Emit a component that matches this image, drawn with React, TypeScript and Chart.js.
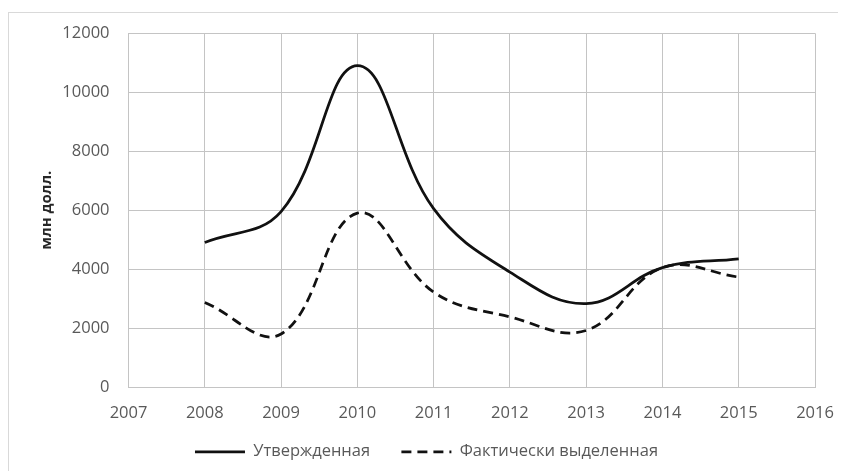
import React, { useEffect, useRef } from "react";
import { Chart, registerables } from "chart.js";

Chart.register(...registerables);

const years = [2008, 2009, 2010, 2011, 2012, 2013, 2014, 2015];
const approved = [4900, 5950, 10900, 6050, 3900, 2830, 4050, 4350];
const allocated = [2870, 1800, 5900, 3220, 2380, 1920, 4050, 3730];
const seriesNames = ["Утвержденная", "Фактически выделенная"];
const yTitle = "млн долл.";
const xMin = 2007;
const xMax = 2016;
const yMax = 12000;

const FONT = "'Open Sans', 'DejaVu Sans', sans-serif";
const TEXT = "#595959";
const GRID = "#c4c4c4";
const FS = 16.5;

export default function App() {
  const ref = useRef<HTMLCanvasElement | null>(null);
  useEffect(() => {
    if (!ref.current) return;
    const toPts = (arr: number[]) => years.map((y, i) => ({ x: y, y: arr[i] }));
    const chart = new Chart(ref.current, {
      type: "line",
      data: {
        datasets: [
          {
            label: seriesNames[0],
            data: toPts(approved),
            borderColor: "#111111",
            backgroundColor: "#111111",
            borderWidth: 2.75,
            pointRadius: 0,
            tension: 0.4,
            fill: false,
          },
          {
            label: seriesNames[1],
            data: toPts(allocated),
            borderColor: "#111111",
            backgroundColor: "#111111",
            borderWidth: 2.75,
            borderDash: [10, 6],
            pointRadius: 0,
            tension: 0.4,
            fill: false,
          },
        ],
      },
      options: {
        animation: false,
        responsive: false,
        layout: { padding: { left: 29, right: 31, top: 0, bottom: 0 } },
        plugins: {
          tooltip: { enabled: false },
          legend: {
            position: "bottom",
            labels: {
              usePointStyle: true,
              pointStyle: "line",
              pointStyleWidth: 50,
              boxHeight: 2,
              padding: 20,
              color: TEXT,
              font: { family: FONT, size: FS },
              generateLabels: (c: any) => {
                const items = Chart.defaults.plugins.legend.labels.generateLabels(c);
                return items.map((it: any, i: number) => {
                  const ds: any = c.data.datasets[it.datasetIndex];
                  return {
                    ...it,
                    text: i === 0 ? it.text + "  \u2009" : it.text,
                    lineDash: ds.borderDash || [],
                    lineWidth: 2.75,
                    strokeStyle: "#111111",
                    pointStyle: "line",
                  };
                });
              },
            },
          },
        },
        scales: {
          x: {
            type: "linear",
            min: xMin,
            max: xMax,
            afterFit: (s: any) => {
              s.height = 36.5;
              s.paddingLeft = 0;
              s.paddingRight = 0;
            },
            ticks: {
              stepSize: 1,
              padding: 16,
              color: TEXT,
              font: { family: FONT, size: FS },
              callback: (v: any) => String(v),
            },
            grid: { color: GRID, drawTicks: false, lineWidth: 1 },
            border: { display: true, color: GRID },
          },
          y: {
            min: 0,
            max: yMax,
            afterFit: (s: any) => {
              s.width = 90.5;
              s.paddingTop = 20.3;
              s.paddingBottom = 0;
            },
            ticks: {
              stepSize: 2000,
              padding: 19,
              color: TEXT,
              font: { family: FONT, size: FS },
              callback: (v: any) => String(v),
            },
            grid: { color: GRID, drawTicks: false, lineWidth: 1 },
            border: { display: true, color: GRID },
            title: {
              display: true,
              text: yTitle,
              color: "#262626",
              padding: 0,
              font: { family: FONT, size: 15, weight: "bold" },
            },
          },
        },
      },
    });
    return () => chart.destroy();
  }, []);

  return (
    <div
      style={{
        position: "relative",
        top: 4,
        width: 838,
        height: 463,
        boxSizing: "border-box",
        borderTop: "1px solid #d9d9d9",
        borderLeft: "1px solid #d9d9d9",
        overflow: "hidden",
      }}
    >
      <canvas ref={ref} width={837} height={457} style={{ display: "block" }} />
    </div>
  );
}
